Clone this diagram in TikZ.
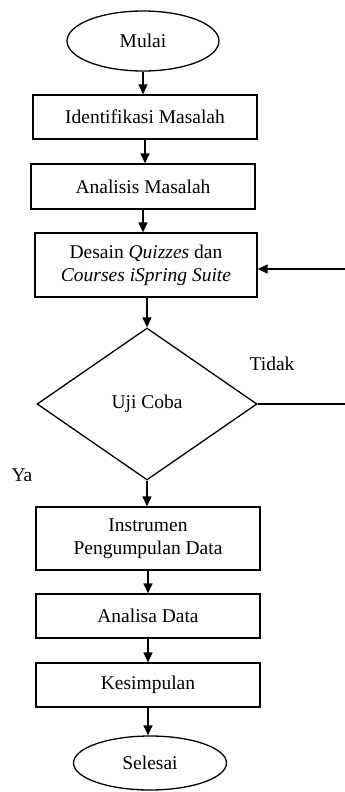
\documentclass[tikz,border=0pt]{standalone}
\usepackage{fontspec}
\setmainfont{Liberation Serif}
\usetikzlibrary{shapes.geometric,arrows.meta}
\begin{document}
\begin{tikzpicture}[x=1pt,y=-1pt,
  every node/.style={font=\fontsize{19.5}{23}\selectfont},
  line/.style={draw=black,line width=1.3pt},
  arr/.style={line,-{Triangle[length=10pt,width=9pt]}},
  proc/.style={line,rectangle,minimum width=224pt,inner sep=2pt,align=center},
  term/.style={line,ellipse,inner sep=0pt},
  dec/.style={line,diamond,inner sep=0pt,minimum width=220pt,minimum height=152pt}]
\useasboundingbox (0,0) rectangle (345,792);
\node[term,minimum width=152pt,minimum height=60pt] (mulai) at (143,41) {Mulai};
\node[proc,minimum height=44pt] (iden) at (145,117) {Identifikasi Masalah};
\node[proc,minimum height=45pt] (anal) at (143,186.5) {Analisis Masalah};
\node[proc,minimum width=222pt,minimum height=64pt] (desain) at (146,265) {Desain \textit{Quizzes} dan\\\textit{Courses iSpring Suite}};
\node[dec] (uji) at (147,404) {Uji Coba};
\node[proc,minimum height=63pt] (instr) at (148,538.5) {Instrumen\\Pengumpulan Data};
\node[proc,minimum height=44pt] (analisa) at (148,616) {Analisa Data};
\node[proc,minimum height=44pt] (kes) at (148,685) {Kesimpulan};
\node[term,minimum width=153pt,minimum height=54pt] (selesai) at (150,763) {Selesai};
\node (tidak) at (272,364) {Tidak};
\node (ya) at (22,475) {Ya};
\coordinate (r1) at (346,404);
\coordinate (r2) at (346,269);
\draw[arr] (mulai) -- (mulai |- iden.north);
\draw[arr] (iden) -- (iden |- anal.north);
\draw[arr] (anal) -- (anal |- desain.north);
\draw[arr] (desain.south -| uji.north) -- (uji.north);
\draw[arr] (uji.south) -- (uji.south |- instr.north);
\draw[arr] (instr) -- (instr |- analisa.north);
\draw[arr] (analisa) -- (analisa |- kes.north);
\draw[arr] (kes) -- (kes |- selesai.north);
\draw[line] (uji.east) -- (r1);
\draw[arr] (r2) -- (r2 -| desain.east);
\end{tikzpicture}
\end{document}
